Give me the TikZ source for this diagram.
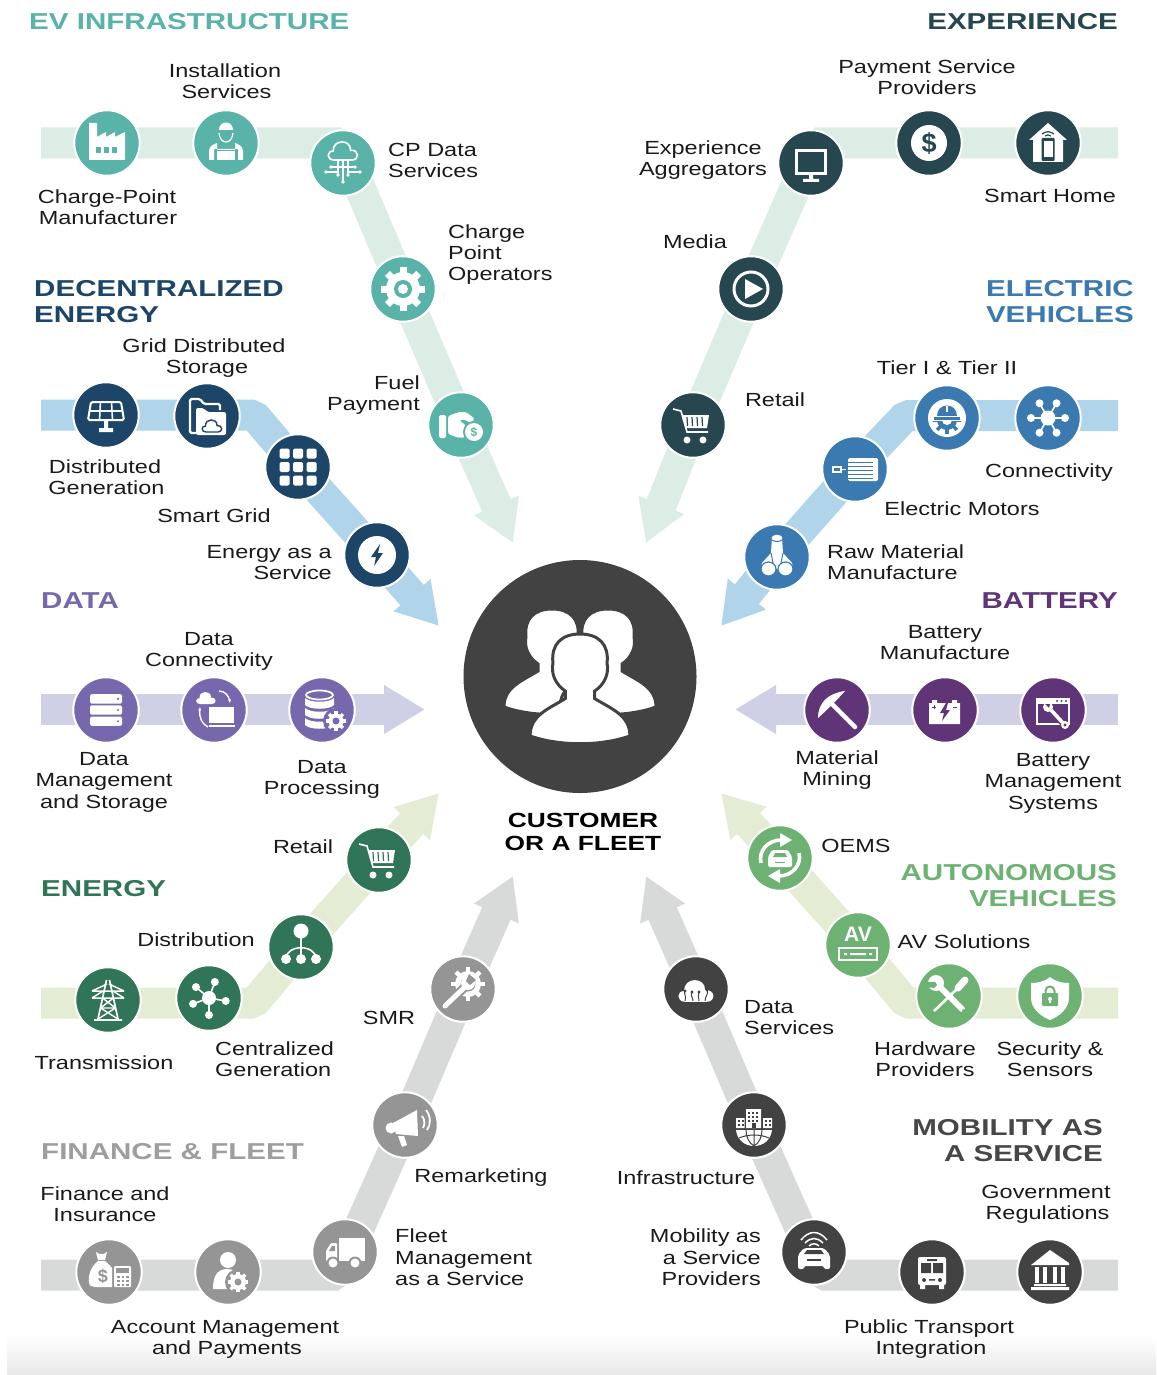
\documentclass[tikz,border=0pt]{standalone}
\usepackage{fontspec}
\usetikzlibrary{arrows.meta}
\setmainfont{Liberation Sans}
\newfontfamily\labfam{Liberation Sans}[FakeStretch=1.235]
\newfontfamily\ttlfam{Liberation Sans}[FakeStretch=1.285]
\newfontfamily\avfam{Liberation Sans}
\newcommand\lab{\labfam\fontsize{19}{21.3}\selectfont}
\newcommand\ttl{\ttlfam\bfseries\fontsize{23}{26.3}\selectfont}
\newcommand\ctl{\ttlfam\bfseries\fontsize{20.5}{23}\selectfont}
\definecolor{evc}{HTML}{59B3A8}\definecolor{expc}{HTML}{26474F}
\definecolor{decc}{HTML}{1C4568}\definecolor{evbc}{HTML}{3A7AB0}
\definecolor{datc}{HTML}{7768AE}\definecolor{batc}{HTML}{5F3577}
\definecolor{enc}{HTML}{317558}\definecolor{avc}{HTML}{6DB273}
\definecolor{finc}{HTML}{959595}\definecolor{monc}{HTML}{424242}
\definecolor{tlr}{HTML}{DCEDE6}\definecolor{blr}{HTML}{B0D4EA}
\definecolor{purr}{HTML}{CFD0E6}\definecolor{grnr}{HTML}{E4ECD3}
\definecolor{gryr}{HTML}{D8DADA}\definecolor{ink}{HTML}{1A1A1A}
\colorlet{ic}{evc}
\pgfdeclarelayer{bg}\pgfsetlayers{bg,main}
\newcommand\cloudp{(-.6,.6) .. controls (-1.1,.6) and (-1.1,0) .. (-.65,0) .. controls (-.7,-.8) and (.55,-.8) .. (.5,-.05) .. controls (1.1,-.1) and (1.1,.6) .. (.6,.6) -- cycle}
\newcommand\cloudat[4]{\begin{scope}[shift={(#1,#2)},scale=#3]\path[#4] \cloudp;\end{scope}}
\newcommand\gearat[5]{\fill[white] (#1,#2) circle[radius=#3];
 \foreach \a in {0,45,...,315}{\draw[white,line width=#5pt] (#1,#2) ++(\a:#3*.8) -- ++(\a:#3*.5);}
 \fill[ic] (#1,#2) circle[radius=#4];}
\newcommand\spokes[2]{\fill[white] (0,0) circle[radius=#1];
 \foreach \a in {#2}{\draw[white,line width=1.6pt] (0,0) -- (\a:17); \fill[white] (\a:17) circle[radius=4];}}
\tikzset{
 hub/.style={circle,fill=ic,draw=white,line width=2pt,minimum size=65.5pt,inner sep=0pt},
 lab/.style={font=\lab,align=center,inner sep=0pt,text=ink,yshift=-.4pt},
 ttlabel/.style={font=\ttl,inner sep=0pt,yshift=-.6pt},
 glyph/.style={font=\avfam\bfseries\fontsize{#1}{#1}\selectfont,inner sep=0pt,text=ic},
 ribbon/.style={line width=31pt,line join=bevel,-{Triangle[width=46pt,length=41pt]}},
 pics/factory/.style={code={
  \fill[white] (-18,-20)--(-10,-20)--(-10,-6)--(-1,-11)--(-1,-6)--(8,-11)--(8,-6)--(18,-11)--(18,17)--(-18,17)--cycle;
  \foreach \x in {-11,-3,5}{\fill[ic] (\x,4) rectangle (\x+5,10);}}},
 pics/worker/.style={code={
  \fill[white] (-7,-13) .. controls (-7,-23) and (7,-23) .. (7,-13) -- cycle;
  \draw[white,line width=1.2pt] (-7,-10) .. controls (-6,2) and (6,2) .. (7,-10);
  \fill[white] (-17,17) -- (-17,8) .. controls (-17,3) and (-12,1) .. (-9,0) -- (-9,7) -- (9,7) -- (9,0) .. controls (12,1) and (17,3) .. (17,8) -- (17,17) -- (12,17) -- (12,6) -- (-12,6) -- (-12,17) -- cycle;
  \fill[white] (-9,8) rectangle (9,17);}},
 pics/cpcloud/.style={code={
  \cloudat{0}{-12}{15}{draw=white,line width=1.6pt}
  \foreach \x/\y in {-5/12,0/19,5/12}{\draw[white,line width=1.4pt] (\x,-3) -- (\x,\y); \fill[white] (\x,\y) circle[radius=1.8];}
  \draw[white,line width=1.4pt] (-17,9) -- (-5,9) (5,9) -- (17,9) (-12,4) -- (12,4);
  \fill[white] (-17,9) circle[radius=1.8] (17,9) circle[radius=1.8] (-12,4) circle[radius=1.8] (12,4) circle[radius=1.8];}},
 pics/bigear/.style={code={\gearat{0}{0}{17}{9}{7}\fill[white] (0,0) circle[radius=5];}},
 pics/handcoin/.style={code={
  \fill[white,rounded corners=1.5] (-22,-10) rectangle (-15,13);
  \fill[white,rounded corners=2.5] (-13,-9) -- (-2,-13) -- (5,-13) -- (14,-6) -- (10,-2) -- (2,-6) -- (-2,-4) -- (4,-1) -- (6,12) -- (-2,13) -- (-13,9) -- cycle;
  \fill[ic] (13,7) circle[radius=11]; \fill[white] (13,7) circle[radius=9];}},
 pics/solar/.style={code={
  \draw[white,line width=2pt,rounded corners=1.5] (-15,-13) -- (15,-13) -- (18,5) -- (-18,5) -- cycle;
  \draw[white,line width=1.6pt] (-5.5,-13) -- (-6.5,5) (5.5,-13) -- (6.5,5) (-16,-4) -- (16,-4);
  \fill[white] (-2,5) rectangle (2,13) (-7,13) rectangle (7,17);}},
 pics/folder/.style={code={
  \draw[white,line width=2.2pt,rounded corners=1.5] (-11,17)--(-17,17)--(-17,-17)--(-7,-17)--(-3,-12)--(13,-12)--(13,-6);
  \fill[white,rounded corners=2] (-11,19)--(-11,-8)--(-3,-8)--(0,-4)--(19,-4)--(19,19)--cycle;
  \cloudat{5}{10}{10}{draw=ic,line width=1.4pt}}},
 pics/gridnine/.style={code={
  \foreach \x in {-13.5,0,13.5}\foreach \y in {-13.5,0,13.5}{\fill[white,rounded corners=1.5] (\x-5,\y-5) rectangle (\x+5,\y+5);}}},
 pics/bolt/.style={code={
  \fill[white] (0,0) circle[radius=19];
  \fill[ic] (3,-11)--(-6,2)--(-1,2)--(-3,11)--(6,-2)--(1,-2)--cycle;}},
 pics/server/.style={code={
  \foreach \y in {-11.2,0,11.2}{\fill[white,rounded corners=1.5] (-16,\y-4.7) rectangle (16,\y+4.7); \fill[ic] (12,\y) circle[radius=1.2];}}},
 pics/cloudlaptop/.style={code={
  \cloudat{-8}{-12}{10}{fill=white}
  \draw[white,line width=1.4pt,-{Stealth[length=4pt]}] (5,-19) .. controls (11,-19) and (15,-14) .. (16,-7);
  \draw[white,line width=1.4pt,-{Stealth[length=4pt]}] (-6,17) .. controls (-12,14) and (-15,8) .. (-14,-3);
  \fill[white] (-5,-3) rectangle (20,13); \fill[white] (-5,15) rectangle (21,17);}},
 pics/database/.style={code={
  \draw[white,line width=1.8pt] (-2.5,-15) ellipse[x radius=13.5,y radius=4.5];
  \foreach \y in {0,10,20}{\fill[white] (-17,-12+\y) .. controls (-12,-7+\y) and (7,-7+\y) .. (12,-12+\y) -- (12,-5+\y) .. controls (7,0+\y) and (-12,0+\y) .. (-17,-5+\y) -- cycle;}
  \fill[ic] (14,11) circle[radius=13];
  \gearat{14}{11}{7.5}{3.5}{3.2}}},
 pics/pick/.style={code={
  \draw[white,line width=4.5pt,line cap=round] (-7,-8) -- (18,17);
  \fill[white] (-19,8) .. controls (-19,-8) and (-8,-17) .. (8,-19) .. controls (-1,-9) and (-9,-1) .. cycle;}},
 pics/battery/.style={code={
  \fill[white] (-16,-7) rectangle (15,14) (-13,-10) rectangle (-8,-7) (7,-10) rectangle (12,-7);
  \fill[ic] (1,-7)--(-5,3)--(-1,3)--(-3,11)--(5,0)--(1,0)--(3,-7)--cycle;
  \draw[ic,line width=1pt] (-13,-3) -- (-9,-3) (-11,-5) -- (-11,-1) (8,-3) -- (12,-3);}},
 pics/winwrench/.style={code={
  \draw[white,line width=2pt] (-16,-11) rectangle (16,14);
  \fill[white] (-16,-12) rectangle (16,-6);
  \foreach \x in {4,8.5,13}{\fill[ic] (\x,-9) circle[radius=1.2];}
  \draw[ic,line width=6pt] (-2,0) -- (13,17);
  \draw[white,line width=3.6pt] (-2,0) -- (10,13);
  \fill[white] (-5,-3) circle[radius=5]; \fill[ic] (-8,-6) -- (-3,-6) -- (-4,-2) -- cycle;
  \fill[white] (12,15) circle[radius=4]; \fill[ic] (12,15) circle[radius=1.6];}},
 pics/oemcar/.style={code={
  \draw[white,line width=3.6pt] (-19,5) .. controls (-22,-7) and (-12,-18) .. (1,-18);
  \fill[white] (0,-25)--(12,-18)--(0,-11)--cycle;
  \draw[white,line width=3.6pt] (19,-5) .. controls (22,7) and (12,18) .. (-1,18);
  \fill[white] (0,25)--(-12,18)--(0,11)--cycle;
  \fill[white,rounded corners=1.5] (-12,9) -- (-12,-1) -- (-8,-8) -- (8,-8) -- (12,-1) -- (12,9) -- cycle;
  \fill[ic] (-7,-1) -- (-5,-5) -- (5,-5) -- (7,-1) -- cycle;
  \draw[ic,line width=1pt] (-5,4) -- (5,4);}},
 pics/avbox/.style={code={
  \draw[white,line width=2pt] (-19,3) rectangle (19,15);
  \fill[white] (-8,8) rectangle (8,10) (-14,8) rectangle (-11,10) (11,8) rectangle (14,10);}},
 pics/tools/.style={code={
  \draw[white,line width=7pt,line cap=round] (16,-16) -- (9,-8);
  \draw[white,line width=2.6pt] (9,-8) -- (-15,15);
  \draw[white,line width=6pt,line cap=round] (-9,-9) -- (13,13);
  \fill[white] (-13,-13) circle[radius=8];
  \fill[ic] (-22,-14) -- (-14,-14) -- (-12,-11) -- (-15,-8)--(-22,-9) -- cycle;
  \fill[ic] (15,15) circle[radius=2];}},
 pics/shield/.style={code={
  \fill[white] (0,-19) .. controls (6,-14) and (13,-13) .. (19,-13) -- (19,2) .. controls (19,12) and (10,20) .. (0,24) .. controls (-10,20) and (-19,12) .. (-19,2) -- (-19,-13) .. controls (-13,-13) and (-6,-14) .. cycle;
  \draw[ic,line width=2pt] (-4.5,-2) -- (-4.5,-5) .. controls (-4.5,-11) and (4.5,-11) .. (4.5,-5) -- (4.5,-2);
  \fill[ic,rounded corners=1] (-8,-3) rectangle (8,10);
  \fill[white] (0,3) circle[radius=2]; \fill[white] (-1,3) rectangle (1,7);}},
 pics/tower/.style={code={
  \draw[white,line width=1.7pt] (-1.5,-20) -- (-10,19) (1.5,-20) -- (10,19) (-14,20) -- (14,20);
  \draw[white,line width=1.5pt] (-16,-9) -- (16,-9) (-16,-9) -- (-1,-16) (16,-9) -- (1,-16) (-16,-2) -- (16,-2) (-16,-2) -- (-5,-9) (16,-2) -- (5,-9);
  \draw[white,line width=1.4pt] (-5.5,-2) -- (7.5,8) (5.5,-2) -- (-7.5,8) (-7.5,8) -- (7.5,8) (-7.5,8) -- (10,19) (7.5,8) -- (-10,19);}},
 pics/hubfive/.style={code={\spokes{7}{-70,-140,160,90,10}}},
 pics/hubsix/.style={code={\spokes{7.5}{-60,-120,180,120,60,0}}},
 pics/orgchart/.style={code={
  \fill[white] (0,-16) circle[radius=7.5];
  \draw[white,line width=1.6pt] (0,-16) -- (0,12);
  \draw[white,line width=1.6pt] (-15,12) .. controls (-15,-3) and (15,-3) .. (15,12);
  \foreach \x in {-15,0,15}{\fill[white] (\x,12) circle[radius=5];}}},
 pics/cart/.style={code={
  \draw[white,line width=1.6pt] (-20,-16) -- (-12,-14) -- (-6,7) -- (15,7);
  \fill[white] (-11,-10) -- (16,-10) -- (14,3) -- (-7,3) -- cycle;
  \foreach \x in {-6,-1,4,9}{\draw[ic,line width=1.2pt] (\x,-8) -- (\x+.5,1);}
  \fill[white] (-6,15) circle[radius=3.5] (10,15) circle[radius=3.5];}},
 pics/wrenchgear/.style={code={
  \gearat{5}{-5}{13}{7.5}{4.4}
  \draw[ic,line width=9pt] (-19,18) -- (6,-6);
  \draw[white,line width=5pt,line cap=round] (-18,17) -- (4,-4);
  \fill[white] (5,-6) circle[radius=7];
  \fill[ic] (6,-15) -- (13,-9) -- (7,-4) -- (3,-8) -- cycle;}},
 pics/megaphone/.style={code={
  \fill[white] (-12,-2) -- (12,-15) -- (13,11) -- (-9,9) -- cycle;
  \fill[white] (-14,3) circle[radius=5.5];
  \fill[white] (-7,11) -- (-3,22) -- (2,20) -- (-1,11) -- cycle;
  \draw[white,line width=1.8pt] (17,-9) .. controls (20,-6) and (20,0) .. (18,3) (21,-15) .. controls (26,-9) and (26,0) .. (22,5);}},
 pics/truck/.style={code={
  \fill[white] (-6,-14) rectangle (20,9);
  \fill[white,rounded corners=1] (-19,9) -- (-19,-1) -- (-14,-9) -- (-8,-9) -- (-8,9) -- cycle;
  \fill[ic] (-16,-1) -- (-13,-6) -- (-10,-6) -- (-10,-1) -- cycle;
  \foreach \x in {-12,10}{\fill[ic] (\x,11) circle[radius=6.5]; \fill[white] (\x,11) circle[radius=4.5];}}},
 pics/moneybag/.style={code={
  \fill[white] (-13,-20) .. controls (-9,-17) and (-6,-17) .. (-2,-20) -- (-4,-12) -- (-11,-12) -- cycle;
  \fill[white] (-11,-11) .. controls (-18,-5) and (-21,2) .. (-20,10) .. controls (-20,14) and (-17,15) .. (-14,15) -- (3,15) -- (3,-4) .. controls (0,-8) and (-2,-9) .. (-4,-11) -- cycle;
  \fill[white,rounded corners=1] (5,-6) rectangle (22,15);
  \fill[ic] (7,-4) rectangle (20,1);
  \foreach \x in {8,12.5,17}\foreach \y in {4,8,12}{\fill[ic] (\x,\y) rectangle (\x+2.5,\y+2);}}},
 pics/persongear/.style={code={
  \fill[white] (0,-12) circle[radius=8];
  \fill[white] (-15,17) .. controls (-15,0) and (-8,-3) .. (0,-3) .. controls (3,-3) and (5,-2) .. (7,0) -- (7,17) -- cycle;
  \fill[ic] (10,10) circle[radius=13];
  \gearat{10}{10}{8}{3.5}{3.4}}},
 pics/dataclouds/.style={code={
  \cloudat{0}{2}{18}{fill=white}
  \draw[ic,line width=1pt] (-11,12) .. controls (-9,6) and (-13,5) .. (-11,2) (-3,12) .. controls (-3,8) and (-6,7) .. (-4,3) (3,12) .. controls (3,8) and (1,6) .. (3,3) (9,12) .. controls (9,7) and (13,5) .. (11,1);
  \draw[ic,line width=1pt] (-11,2) circle[radius=1] (-4,3) circle[radius=1] (3,3) circle[radius=1] (11,1) circle[radius=1];}},
 pics/buildings/.style={code={
  \fill[white] (-8,-16) rectangle (7,3) (-18,-7) rectangle (-9.5,3) (9,-7) rectangle (18,3);
  \foreach \x in {-6,-2,2}\foreach \y in {-13,-9,-5}{\fill[ic] (\x,\y) rectangle (\x+2.4,\y+2.4);}
  \fill[ic] (-2,-2) rectangle (2,3);
  \foreach \x in {-16.5,-12.5,11,15}\foreach \y in {-5,-1}{\fill[ic] (\x,\y) rectangle (\x+2.4,\y+2.4);}
  \fill[white] (-18,5) .. controls (-17,15) and (-9,21) .. (0,21) .. controls (9,21) and (17,15) .. (18,5) -- cycle;
  \draw[ic,line width=1pt] (0,5) -- (0,21) (-8,5) .. controls (-8,12) and (-5,18) .. (0,21) (8,5) .. controls (8,12) and (5,18) .. (0,21) (-15,13) .. controls (-6,9) and (6,9) .. (15,13);}},
 pics/carwifi/.style={code={
  \draw[white,line width=1.5pt] (-13,-12) .. controls (-5,-22) and (5,-22) .. (13,-12) (-9,-9) .. controls (-3,-15) and (3,-15) .. (9,-9) (-5,-6) .. controls (-2,-9) and (2,-9) .. (5,-6);
  \fill[white,rounded corners=2] (-16,17) -- (-16,3) -- (-10,-4) -- (10,-4) -- (16,3) -- (16,17) -- (10,17) -- (10,14) -- (-10,14) -- (-10,17) -- cycle;
  \fill[ic] (-10,2) -- (-7,-2) -- (7,-2) -- (10,2) -- cycle;
  \fill[ic] (-7,7) rectangle (7,9);}},
 pics/bus/.style={code={
  \fill[white,rounded corners=2] (-14,-15) rectangle (14,13);
  \fill[white] (-12,13) rectangle (-7,17) (7,13) rectangle (12,17);
  \fill[ic] (-11,-9) rectangle (-1,1) (1,-9) rectangle (11,1) (-5,-13) rectangle (5,-11);
  \fill[ic] (-8,8) circle[radius=2] (8,8) circle[radius=2] (-3,7) rectangle (3,8.5);}},
 pics/bank/.style={code={
  \fill[white] (0,-22) -- (19,-9) -- (19,-7) -- (-19,-7) -- cycle;
  \foreach \x in {-13,-5,5,13}{\fill[white] (\x-2.3,-5) rectangle (\x+2.3,11);}
  \fill[white] (-16,12) rectangle (16,14) (-19,15) rectangle (19,18);}},
 pics/monitor/.style={code={
  \draw[white,line width=3pt] (-14.5,-12) rectangle (14.5,11);
  \fill[white] (-2,11) rectangle (2,17) (-8,16) rectangle (8,19);}},
 pics/house/.style={code={
  \fill[white] (0,-20) -- (19,-3) -- (15,-3) -- (15,19) -- (-15,19) -- (-15,-3) -- (-19,-3) -- cycle;
  \fill[ic,rounded corners=1] (-6.5,-5) rectangle (6.5,18);
  \fill[white] (-4.5,-2) rectangle (4.5,14);
  \draw[ic,line width=1.2pt] (-6,-9) .. controls (-2,-12) and (2,-12) .. (6,-9) (-3,-7) .. controls (-1,-8.5) and (1,-8.5) .. (3,-7);}},
 pics/playbtn/.style={code={
  \draw[white,line width=3pt] (0,0) circle[radius=17];
  \fill[white] (-6,-10) -- (12,0) -- (-6,10) -- cycle;}},
 pics/hardhat/.style={code={
  \fill[white] (0,0) circle[radius=19];
  \begin{scope}
   \clip (-20,3) rectangle (20,20);
   \foreach \a in {0,45,...,315}{\draw[ic,line width=3.4pt] (0,2) ++(\a:6) -- ++(\a:8);}
   \fill[ic] (0,2) circle[radius=10]; \fill[white] (0,2) circle[radius=5];
  \end{scope}
  \fill[ic] (-10,-2) .. controls (-10,-16) and (10,-16) .. (10,-2) -- cycle;
  \fill[ic] (-13,-1) rectangle (13,2);
  \fill[white] (-1.2,-12) rectangle (1.2,-6);}},
 pics/motor/.style={code={
  \fill[white,rounded corners=1.5] (-7,-11) rectangle (23,12);
  \foreach \y in {-7,-3,1,5,9}{\draw[ic,line width=.9pt] (-7,\y) -- (18,\y);}
  \draw[white,line width=1.4pt] (-22,-2) rectangle (-14,3) (-14,.5) -- (-9,.5);}},
 pics/pipes/.style={code={
  \fill[white] (-5,-20) .. controls (-3,-23) and (3,-23) .. (5,-20) -- (6,-4) -- (15,6) -- (16,12) -- (-16,12) -- (-15,6) -- (-6,-4) -- cycle;
  \draw[ic,line width=1pt] (-5,-17) .. controls (-2,-15) and (2,-15) .. (5,-17) (-6,-4) -- (-4,6) (6,-4) -- (4,6);
  \foreach \x in {-8.5,8.5}{\fill[white] (\x,12) ellipse[x radius=7.5,y radius=7];
   \draw[ic,line width=1.2pt] (\x,12) ellipse[x radius=7.5,y radius=7];}}},
 pics/person/.style={code={
  \path[fill=white,draw=monc,line width=3pt] (-48,98) .. controls (-48,78) and (-30,72) .. (-14,62) -- (-14,55) .. controls (-24,48) and (-28,38) .. (-26,28) .. controls (-28,10) and (-18,0) .. (0,0) .. controls (18,0) and (28,10) .. (26,28) .. controls (28,38) and (24,48) .. (14,55) -- (14,62) .. controls (30,72) and (48,78) .. (48,98) .. controls (20,108) and (-20,108) .. (-48,98) -- cycle;}},
}
\begin{document}
\begin{tikzpicture}[x=1pt,y=-1pt]
\useasboundingbox (0,0) rectangle (1156,1375);
\begin{pgfonlayer}{bg}
\fill[white] (0,0) rectangle (1156,1375);
\shade[top color=white,bottom color=black!9] (7,1335) rectangle (1156,1375);
\end{pgfonlayer}

% centre
\node[circle,fill=monc,minimum size=233pt,inner sep=0pt] (centre) at (580,676.5) {};
\pic[scale=1] at (552,609) {person};
\pic[scale=1] at (608,609) {person};
\pic[scale=1.04] at (580,634) {person};
\node[font=\ctl,align=center,inner sep=0pt,text=black] (ctext) at (583,832) {CUSTOMER\\OR A FLEET};

% EV INFRASTRUCTURE
\colorlet{ic}{evc}
\node[hub] (charge) at (107,143) {}; \pic at (charge.center) {factory};
\node[hub] (install) at (226,143) {}; \pic at (install.center) {worker};
\node[hub] (cpdata) at (343,163) {}; \pic at (cpdata.center) {cpcloud};
\node[hub] (cpop) at (403,289) {}; \pic at (cpop.center) {bigear};
\node[hub] (fuel) at (461,425) {}; \pic at (fuel.center) {handcoin};
\node[glyph=12,text=ic] (fuelS) at (474,432) {\$};
\coordinate (evS) at (41,143); \coordinate (evB) at (341,143); \coordinate (evE) at (513,543);
\begin{pgfonlayer}{bg}\draw[ribbon,tlr] (evS) -- (charge.center) -- (install.center) -- (evB) -- (cpop.center) -- (fuel.center) -- (evE);\end{pgfonlayer}
\node[ttlabel,text=evc,anchor=west] (t1) at (29,21) {EV INFRASTRUCTURE};
\node[lab] (l1) at (225,81) {Installation\hspace{2pt}\\\hspace{3pt}Services};
\node[lab] (l2) at (107,207) {Charge-Point\hspace{6pt}\\\hspace{2pt}Manufacturer};
\node[lab,align=left,anchor=west] (l3) at (388,160) {CP Data\\Services};
\node[lab,align=left,anchor=west] (l4) at (448,254) {Charge\\Point\\Operators};
\node[lab,align=right,anchor=east] (l5) at (420,395) {Fuel\hspace{7pt}\\Payment};

% EXPERIENCE
\colorlet{ic}{expc}
\node[hub] (exag) at (811,163) {}; \pic at (exag.center) {monitor};
\node[hub] (paysvc) at (929,143) {}; \fill[white] (paysvc.center) circle[radius=18];
\node[glyph=27] (payS) at (929,143) {\$};
\node[hub] (smhome) at (1048,143) {}; \pic at (smhome.center) {house};
\node[hub] (media) at (751,289) {}; \pic at (media.center) {playbtn};
\node[hub] (retailx) at (693,425) {}; \pic at (retailx.center) {cart};
\coordinate (exS) at (1118,143); \coordinate (exB) at (815,143); \coordinate (exE) at (646,543);
\begin{pgfonlayer}{bg}\draw[ribbon,tlr] (exS) -- (smhome.center) -- (paysvc.center) -- (exB) -- (media.center) -- (retailx.center) -- (exE);\end{pgfonlayer}
\node[ttlabel,text=expc,anchor=east] (t2) at (1118,21) {EXPERIENCE};
\node[lab] (r1) at (927,77) {Payment Service\\Providers\hspace{6pt}};
\node[lab] (r2) at (703,160) {Experience\\Aggregators};
\node[lab] (r3) at (1050,196) {Smart Home};
\node[lab] (r4) at (695,241) {Media};
\node[lab] (r5) at (775,399) {Retail};

% DECENTRALIZED ENERGY
\colorlet{ic}{decc}
\node[hub] (distgen) at (106,415) {}; \pic at (distgen.center) {solar};
\node[hub] (gridst) at (207,416) {}; \pic at (gridst.center) {folder};
\node[hub] (smgrid) at (298,467) {}; \pic at (smgrid.center) {gridnine};
\node[hub] (eaas) at (377,555) {}; \pic at (eaas.center) {bolt};
\coordinate (deS) at (41,415); \coordinate (deB) at (254,415); \coordinate (deE) at (439,626);
\begin{pgfonlayer}{bg}\draw[ribbon,blr] (deS) -- (distgen.center) -- (gridst.center |- deS) -- (deB) -- (smgrid.center) -- (eaas.center) -- (deE);\end{pgfonlayer}
\node[ttlabel,text=decc,align=left,anchor=west] (t3) at (34,301) {DECENTRALIZED\\ENERGY};
\node[lab] (l6) at (204,358) {Grid Distributed\\\hspace{6pt}Storage};
\node[lab] (l7) at (105,477) {Distributed\hspace{3pt}\\\hspace{3pt}Generation};
\node[lab] (l8) at (214,515) {Smart Grid};
\node[lab,align=right,anchor=east] (l9) at (332,562) {Energy as a\\Service};

% ELECTRIC VEHICLES
\colorlet{ic}{evbc}
\node[hub] (tiers) at (947,418) {}; \pic at (tiers.center) {hardhat};
\node[hub] (connect) at (1048,418) {}; \pic at (connect.center) {hubsix};
\node[hub] (motors) at (855,469) {}; \pic at (motors.center) {motor};
\node[hub] (rawmat) at (777,557) {}; \pic at (rawmat.center) {pipes};
\coordinate (vbS) at (1118,415.5); \coordinate (vbB) at (906,415.5); \coordinate (vbE) at (721,626);
\begin{pgfonlayer}{bg}\draw[ribbon,blr] (vbS) -- (connect.center |- vbS) -- (tiers.center |- vbS) -- (vbB) -- (motors.center) -- (rawmat.center) -- (vbE);\end{pgfonlayer}
\node[ttlabel,text=evbc,align=right,anchor=east] (t4) at (1134,301) {ELECTRIC\\VEHICLES};
\node[lab] (r6) at (947,367) {Tier I \& Tier II};
\node[lab] (r7) at (1049,472) {Connectivity};
\node[lab] (r8) at (962,508) {Electric Motors};
\node[lab,align=left,anchor=west] (r9) at (827,562) {Raw Material\\Manufacture};

% DATA
\colorlet{ic}{datc}
\node[hub] (datam) at (106,710) {}; \pic at (datam.center) {server};
\node[hub] (datac) at (214,710) {}; \pic at (datac.center) {cloudlaptop};
\node[hub] (datap) at (322,710) {}; \pic at (datap.center) {database};
\coordinate (daS) at (41,709.5); \coordinate (daE) at (425,709.5);
\begin{pgfonlayer}{bg}\draw[ribbon,purr] (daS) -- (daE);\end{pgfonlayer}
\node[ttlabel,text=datc,anchor=west] (t5) at (41,600) {DATA};
\node[lab] (l10) at (209,651) {Data\\Connectivity};
\node[lab] (l11) at (104,782) {Data\\Management\\and Storage};
\node[lab] (l12) at (322,779) {Data\\Processing};

% BATTERY
\colorlet{ic}{batc}
\node[hub] (mining) at (837,710) {}; \pic at (mining.center) {pick};
\node[hub] (batman) at (945,710) {}; \pic at (batman.center) {battery};
\node[hub] (batsys) at (1053,710) {}; \pic at (batsys.center) {winwrench};
\coordinate (baS) at (1118,709.5); \coordinate (baE) at (735,709.5);
\begin{pgfonlayer}{bg}\draw[ribbon,purr] (baS) -- (baE);\end{pgfonlayer}
\node[ttlabel,text=batc,anchor=east] (t6) at (1118,600) {BATTERY};
\node[lab] (r10) at (945,642) {Battery\\Manufacture};
\node[lab] (r11) at (837,770) {Material\\Mining};
\node[lab] (r12) at (1053,783) {Battery\\Management\\Systems};

% ENERGY
\colorlet{ic}{enc}
\node[hub] (transm) at (108,1000) {}; \pic at (transm.center) {tower};
\node[hub] (central) at (209,998) {}; \pic at (central.center) {hubfive};
\node[hub] (distrib) at (301,947) {}; \pic at (distrib.center) {orgchart};
\node[hub] (retaile) at (379,860) {}; \pic at (retaile.center) {cart};
\coordinate (enS) at (41,1003); \coordinate (enB) at (254,1003); \coordinate (enE) at (439,793);
\begin{pgfonlayer}{bg}\draw[ribbon,grnr] (enS) -- (transm.center |- enS) -- (central.center |- enS) -- (enB) -- (distrib.center) -- (retaile.center) -- (enE);\end{pgfonlayer}
\node[ttlabel,text=enc,anchor=west] (t7) at (41,888) {ENERGY};
\node[lab] (l13) at (303,846) {Retail};
\node[lab] (l14) at (196,939) {Distribution};
\node[lab] (l15) at (104,1062) {Transmission};
\node[lab,align=left,anchor=west] (l16) at (215,1059) {Centralized\\Generation};
\node[lab] (l17) at (389,1018) {SMR};

% AUTONOMOUS VEHICLES
\colorlet{ic}{avc}
\node[hub] (oems) at (780,858) {}; \pic at (oems.center) {oemcar};
\node[hub] (avsol) at (858,945) {}; \pic at (avsol.center) {avbox};
\node[glyph=21,text=white] (avT) at (858,934) {AV};
\node[hub] (hardw) at (949,996) {}; \pic at (hardw.center) {tools};
\node[hub] (secur) at (1050,996) {}; \pic at (secur.center) {shield};
\coordinate (avS) at (1118,1003); \coordinate (avB) at (906,1003); \coordinate (avE) at (721,793);
\begin{pgfonlayer}{bg}\draw[ribbon,grnr] (avS) -- (secur.center |- avS) -- (hardw.center |- avS) -- (avB) -- (avsol.center) -- (oems.center) -- (avE);\end{pgfonlayer}
\node[ttlabel,text=avc,align=right,anchor=east] (t8) at (1117,885) {AUTONOMOUS\\VEHICLES};
\node[lab] (r13) at (856,846) {OEMS};
\node[lab] (r14) at (964,941) {AV Solutions};
\node[lab,align=left,anchor=west] (r15) at (744,1017) {Data\\Services};
\node[lab] (r16) at (925,1059) {Hardware\\Providers};
\node[lab] (r17) at (1050,1059) {Security \&\\Sensors};

% FINANCE & FLEET
\colorlet{ic}{finc}
\node[hub] (financ) at (109,1272) {}; \pic at (financ.center) {moneybag};
\node[glyph=18] (finS) at (103,1276) {\$};
\node[hub] (account) at (228,1272) {}; \pic at (account.center) {persongear};
\node[hub] (fleet) at (345,1252) {}; \pic at (fleet.center) {truck};
\node[hub] (remark) at (405,1125) {}; \pic at (remark.center) {megaphone};
\node[hub] (smr) at (463,989) {}; \pic at (smr.center) {wrenchgear};
\coordinate (fiS) at (41,1275); \coordinate (fiB) at (338,1275); \coordinate (fiE) at (513,876);
\begin{pgfonlayer}{bg}\draw[ribbon,gryr] (fiS) -- (financ.center |- fiS) -- (account.center |- fiS) -- (fiB) -- (remark.center) -- (smr.center) -- (fiE);\end{pgfonlayer}
\node[ttlabel,text=black!38,anchor=west] (t9) at (41,1151) {FINANCE \& FLEET};
\node[lab] (l18) at (105,1204) {Finance and\hspace{1pt}\\Insurance\hspace{4pt}};
\node[lab] (l19) at (225,1339) {Account Management\\\hspace{4pt}and Payments};
\node[lab] (l20) at (481,1177) {Remarketing};
\node[lab,align=left,anchor=west] (l21) at (395,1257) {Fleet\\Management\\as a Service};

% MOBILITY AS A SERVICE
\colorlet{ic}{monc}
\node[hub] (dsvc) at (696,989) {}; \pic at (dsvc.center) {dataclouds};
\node[hub] (infra) at (754,1125) {}; \pic at (infra.center) {buildings};
\node[hub] (masp) at (814,1252) {}; \pic at (masp.center) {carwifi};
\node[hub] (pubtr) at (932,1272) {}; \pic at (pubtr.center) {bus};
\node[hub] (gov) at (1050,1272) {}; \pic at (gov.center) {bank};
\coordinate (moS) at (1118,1275); \coordinate (moB) at (821,1275); \coordinate (moE) at (646,876);
\begin{pgfonlayer}{bg}\draw[ribbon,gryr] (moS) -- (gov.center |- moS) -- (pubtr.center |- moS) -- (moB) -- (infra.center) -- (dsvc.center) -- (moE);\end{pgfonlayer}
\node[ttlabel,text=black!72,align=right,anchor=east] (t10) at (1103,1140) {MOBILITY AS\\A SERVICE};
\node[lab] (r18) at (686,1177) {Infrastructure};
\node[lab] (r19) at (1046,1204) {Government\\\hspace{3pt}Regulations};
\node[lab,align=right,anchor=east] (r20) at (761,1257) {Mobility as\\a Service\\Providers};
\node[lab] (r21) at (929,1339) {Public Transport\\\hspace{4pt}Integration};
\end{tikzpicture}
\end{document}
